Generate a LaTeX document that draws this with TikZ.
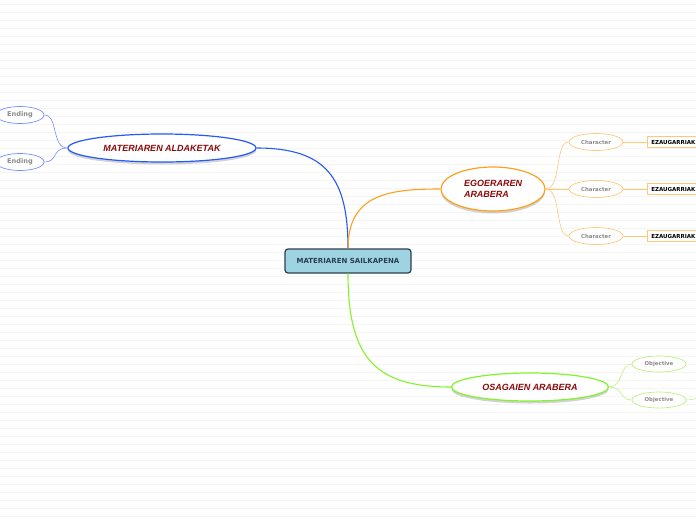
\documentclass[tikz,border=0pt]{standalone}
\usepackage{fontspec}
\setmainfont{Liberation Sans}
\newfontfamily\verd{DejaVu Sans}
\usepackage{xcolor}
\usetikzlibrary{shapes.geometric, shadows, positioning}
\definecolor{mapblue}{RGB}{35,90,250}
\definecolor{maporange}{RGB}{255,160,30}
\definecolor{mapgreen}{RGB}{130,245,40}
\definecolor{paleblue}{RGB}{120,140,255}
\definecolor{paleorange}{RGB}{255,200,120}
\definecolor{palegreen}{RGB}{190,240,130}
\definecolor{titlered}{RGB}{140,10,10}
\definecolor{labelgray}{RGB}{140,140,140}
\definecolor{rootfill}{RGB}{158,212,226}
\definecolor{rootedge}{RGB}{45,62,78}
\tikzset{
  rootbox/.style={
    rectangle, rounded corners=3pt, draw=rootedge, line width=1.2pt,
    fill=rootfill, minimum width=126pt, minimum height=24pt,
    font=\verd\bfseries\fontsize{7}{8}\selectfont, text=rootedge
  },
  topic/.style={
    ellipse, draw=#1, line width=1.2pt, fill=white, inner sep=0pt,
    drop shadow={shadow xshift=0pt, shadow yshift=-2.5pt, opacity=.35},
    align=left, font=\bfseries\itshape\fontsize{9}{10.5}\selectfont,
    text=titlered
  },
  leaf/.style={
    ellipse, draw=#1, line width=.7pt, fill=white, inner sep=0pt,
    minimum width=54pt, minimum height=17pt,
    font=\verd\bfseries\fontsize{5.4}{6}\selectfont, text=labelgray
  },
  tag/.style={
    rectangle, draw=#1, line width=.7pt, fill=white, inner xsep=4pt,
    minimum height=11pt, anchor=west,
    font=\verd\bfseries\fontsize{5.5}{6}\selectfont, text=black
  },
  branch/.style={draw=#1, line width=1.1pt},
  twig/.style={draw=#1, line width=.6pt}
}
\begin{document}
\begin{tikzpicture}[x=1pt, y=-1pt]
\useasboundingbox (0,0) rectangle (696,520);
\clip (0,0) rectangle (696,520);
\fill[white] (0,0) rectangle (696,520);
\foreach \y in {4,12,...,516}
  \draw[black!4, line width=.6pt] (0,\y) -- (696,\y);

% centre
\node[rootbox] (root) at (348,261) {MATERIAREN SAILKAPENA};

% main topics
\node[topic=mapblue, minimum width=188pt, minimum height=28pt] (ald) at (162,148) {MATERIAREN ALDAKETAK};
\node[topic=maporange, minimum width=104pt, minimum height=44pt] (ego) at (493,189) {EGOERAREN\\ARABERA};
\node[topic=mapgreen, minimum width=157pt, minimum height=28pt] (osa) at (530,387) {OSAGAIEN ARABERA};

% leaves
\node[leaf=paleblue, minimum width=48pt, font=\verd\bfseries\fontsize{6.6}{7}\selectfont] (end1) at (20,115) {Ending};
\node[leaf=paleblue, minimum width=48pt, font=\verd\bfseries\fontsize{6.6}{7}\selectfont] (end2) at (20,162) {Ending};
\node[leaf=paleorange] (char1) at (596,142) {Character};
\node[leaf=paleorange] (char2) at (596,189) {Character};
\node[leaf=paleorange] (char3) at (596,236) {Character};
\node[tag=paleorange] (ez1) at (647,142) {EZAUGARRIAK};
\node[tag=paleorange] (ez2) at (647,189) {EZAUGARRIAK};
\node[tag=paleorange] (ez3) at (647,236) {EZAUGARRIAK};
\node[leaf=palegreen, minimum height=16pt] (obj1) at (659,364) {Objective};
\node[leaf=palegreen, minimum height=16pt] (obj2) at (659,400) {Objective};
\coordinate (objout) at (710,396);

% branches
\draw[branch=mapblue] (root.north) .. controls +(0,-70) and +(70,0) .. (ald.east);
\draw[branch=maporange] (root.north) .. controls +(0,-55) and +(-50,0) .. (ego.west);
\draw[branch=mapgreen] (root.south) .. controls +(0,85) and +(-75,0) .. (osa.west);

\draw[twig=paleblue] (ald.west) .. controls +(-16,0) and +(14,0) .. (end1.east);
\draw[twig=paleblue] (ald.west) .. controls +(-16,0) and +(14,0) .. (end2.east);
\draw[twig=paleorange] (ego.east) .. controls +(16,0) and +(-14,0) .. (char1.west);
\draw[twig=paleorange] (ego.east) -- (char2.west);
\draw[twig=paleorange] (ego.east) .. controls +(16,0) and +(-14,0) .. (char3.west);
\draw[twig=paleorange] (char1.east) -- (ez1.west);
\draw[twig=paleorange] (char2.east) -- (ez2.west);
\draw[twig=paleorange] (char3.east) -- (ez3.west);
\draw[twig=palegreen] (osa.east) .. controls +(14,0) and +(-12,0) .. (obj1.west);
\draw[twig=palegreen] (osa.east) .. controls +(14,0) and +(-12,0) .. (obj2.west);
\draw[twig=palegreen] (obj2.east) .. controls +(8,0) and +(-8,0) .. (objout);

\end{tikzpicture}
\end{document}
